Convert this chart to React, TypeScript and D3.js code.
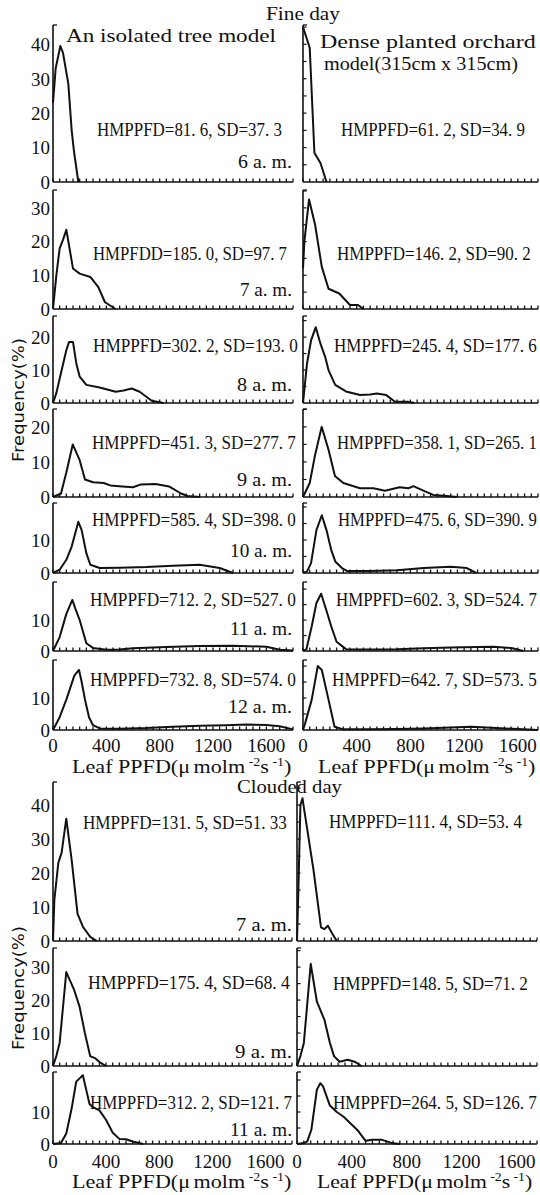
import React, { useLayoutEffect, useRef, useState } from 'react';
import * as d3 from 'd3';

type Pt = [number, number];

// ---------- DATA (PPFD µmol m-2 s-1, frequency %) ----------
const xTickValues = [0, 400, 800, 1200, 1600];

const fine6L: Pt[] = [[0,23],[20,33],[55,39.5],[75,37.5],[115,28.5],[140,15],[157,9],[190,0]];
const fine6R: Pt[] = [[0,45],[50,39],[85,8.5],[100,7.5],[130,5.5],[175,0]];
const fine7L: Pt[] = [[0,0],[25,10],[50,18],[75,20.5],[100,23.5],[150,12],[200,10.5],[280,9.5],[340,6.5],[390,2],[470,0]];
const fine7R: Pt[] = [[0,12],[10,20],[45,32.5],[90,25],[140,12.5],[190,6],[270,4.6],[350,1.2],[410,1.2],[450,0]];
const fine8L: Pt[] = [[0,0],[25,3],[65,10],[100,16],[120,18.5],[150,18.5],[175,12],[200,8],[250,5.5],[350,4.7],[470,3.4],[530,3.8],[590,4.4],[650,3.4],[740,0.7],[830,0]];
const fine8R: Pt[] = [[0,0],[15,6],[30,12],[60,19],[95,23],[130,18],[165,14],[190,10],[240,5.5],[320,3.5],[425,2.4],[500,2.6],[550,2.9],[620,2.4],[685,0.4],[780,0.4],[830,0]];
const fine9L: Pt[] = [[0,0],[60,1],[100,7],[148,15],[200,10.5],[240,5],[300,4.2],[380,4],[430,3.3],[520,3],[600,2.8],[660,3.6],[770,3.7],[870,3],[960,1],[1010,0.3],[1100,0]];
const fine9R: Pt[] = [[0,0],[50,4],[90,12],[139,20],[190,13.5],[238,6],[300,4],[425,2.5],[525,2.5],[610,1.8],[720,2.8],[785,2.5],[822,3.1],[896,1.8],[970,0.6],[1070,0.3],[1145,0]];
const fine10L: Pt[] = [[0,0],[50,1],[100,4],[140,8],[190,15.5],[215,13],[250,6],[280,2.5],[350,1.5],[500,1.6],[700,1.8],[900,2.2],[1100,2.5],[1250,1.5],[1350,0]];
const fine10R: Pt[] = [[0,0],[30,0.5],[60,3],[100,13],[140,17.5],[175,13],[210,7],[240,3.5],[290,1.5],[330,0.6],[500,0.6],[700,0.8],[900,1.5],[1100,1.9],[1220,1.5],[1290,0]];
const fine11L: Pt[] = [[0,0],[50,4.5],[100,12],[145,16.5],[165,14],[200,10],[250,2.5],[300,1],[400,0.4],[500,0.5],[600,0.9],[850,1.3],[1100,1.6],[1350,1.7],[1600,1.4],[1700,0.4],[1800,0.2]];
const fine11R: Pt[] = [[0,0],[25,0.5],[65,8],[100,15.5],[135,18.5],[175,13],[210,8],[250,3],[320,0.6],[500,0.5],[700,0.6],[900,0.9],[1100,1.1],[1300,1.3],[1420,1.4],[1560,0.9],[1640,0]];
const fine12L: Pt[] = [[0,0],[50,4],[100,9.5],[160,17],[195,18.8],[215,15],[240,9.5],[270,4],[300,1.5],[350,0.5],[500,0.4],[700,0.6],[900,1],[1100,1.3],[1300,1.5],[1450,1.7],[1600,1.6],[1700,1.2],[1800,0.2]];
const fine12R: Pt[] = [[0,0],[15,2],[65,9.5],[110,20],[140,18.8],[190,9.5],[235,1],[300,0.2],[500,0.2],[700,0.3],[900,0.5],[1100,0.8],[1250,1],[1400,0.7],[1600,0.3],[1750,0]];

const cloud7L: Pt[] = [[0,0],[10,12],[40,23],[65,26],[100,36],[140,24],[185,8],[225,4.2],[280,1.2],[330,0]];
const cloud7R: Pt[] = [[0,0],[10,15],[25,40],[40,42],[55,38],[120,21],[175,4],[200,3.5],[225,4.5],[260,2],[290,0]];
const cloud9L: Pt[] = [[0,0],[25,3],[50,7],[100,28.5],[160,23],[200,18],[240,10],[280,3],[320,2.3],[350,1.2],[400,0]];
const cloud9R: Pt[] = [[0,0],[25,3],[50,7],[100,31],[145,19.5],[200,14],[240,7],[270,3],[310,1.3],[370,1.9],[420,1.3],[470,0]];
const cloud11L: Pt[] = [[0,0],[60,0.3],[100,3.3],[140,11],[175,19.5],[200,20.5],[225,21.5],[250,17],[275,12.5],[300,11.5],[350,10.5],[400,7.5],[450,3.5],[500,1.6],[550,1.5],[600,0.8],[680,0]];
const cloud11R: Pt[] = [[0,0],[50,0.3],[75,0.8],[105,4.5],[145,17],[170,19],[190,18],[240,12],[290,10],[340,8.5],[440,4.4],[500,1],[550,1.3],[620,1.3],[700,0.2],[750,0]];

const statsFineL = ['HMPPFD=81. 6, SD=37. 3','HMPFDD=185. 0, SD=97. 7','HMPPFD=302. 2, SD=193. 0','HMPPFD=451. 3, SD=277. 7','HMPPFD=585. 4, SD=398. 0','HMPPFD=712. 2, SD=527. 0','HMPPFD=732. 8, SD=574. 0'];
const statsFineR = ['HMPPFD=61. 2, SD=34. 9','HMPPFD=146. 2, SD=90. 2','HMPPFD=245. 4, SD=177. 6','HMPPFD=358. 1, SD=265. 1','HMPPFD=475. 6, SD=390. 9','HMPPFD=602. 3, SD=524. 7','HMPPFD=642. 7, SD=573. 5'];
const timesFine = ['6 a. m.','7 a. m.','8 a. m.','9 a. m.','10 a. m.','11 a. m.','12 a. m.'];
const statsCloudL = ['HMPPFD=131. 5, SD=51. 33','HMPPFD=175. 4, SD=68. 4','HMPPFD=312. 2, SD=121. 7'];
const statsCloudR = ['HMPPFD=111. 4, SD=53. 4','HMPPFD=148. 5, SD=71. 2','HMPPFD=264. 5, SD=126. 7'];
const timesCloud = ['7 a. m.','9 a. m.','11 a. m.'];

const yTicksFine = [[0,10,20,30,40],[0,10,20,30],[0,10,20],[0,10,20],[0,10],[0,10],[0,10]];
const yTicksCloud = [[0,10,20,30,40],[0,10,20,30],[0,10]];
const yMaxFine = [45.6, 35.3, 26.4, 25.1, 21.2, 22.3, 21.9];
const yMaxCloud = [46.8, 35.8, 22.5];

const fineL = [fine6L, fine7L, fine8L, fine9L, fine10L, fine11L, fine12L];
const fineR = [fine6R, fine7R, fine8R, fine9R, fine10R, fine11R, fine12R];
const cloudL = [cloud7L, cloud9L, cloud11L];
const cloudR = [cloud7R, cloud9R, cloud11R];

// ---------- LAYOUT ----------
const W = 540, H = 1195;
const fineRows = [
  { top: 25, base: 182 }, { top: 190, base: 309 }, { top: 316, base: 403 }, { top: 409, base: 497 },
  { top: 503, base: 573 }, { top: 582, base: 651 }, { top: 660, base: 730 },
];
const cloudRows = [{ top: 782, base: 941 }, { top: 948, base: 1066 }, { top: 1072, base: 1144 }];
const fineCols = { L: [53, 293], R: [303, 538] };
const cloudCols = { L: [53, 292], R: [297, 537] };
const xMaxL = 1800, xMaxR = 1750;

const fineStatL = [[97,185,136],[93,194,260],[93,205,352],[92,204,449],[92,204,526],[90,206,606],[90,206,686]];
const fineStatR = [[341,184,136],[337,194,260],[334,203,352],[337,200,449],[338,199,526],[336,201,606],[332,205,686]];
const fineTime = [[54,168],[52,296],[55,391],[55,486],[62,557],[62,635],[64,713]];
const cloudStatL = [[83,204,829],[88,202,989],[90,202,1109]];
const cloudStatR = [[329,193,828],[333,195,990],[333,204,1109]];
const cloudTime = [[56,931],[57,1058],[62,1136]];

const SERIF = '"Liberation Serif", "DejaVu Serif", serif';
const SANS = '"DejaVu Sans", "Liberation Sans", sans-serif';
const INK = '#111';

// Text squeezed horizontally to a target width (keeps real bbox inside the page)
function Fit({ x, y, w, children, anchor = 'start', size = 19, family = SERIF, rotate = 0 }: any) {
  const ref = useRef<SVGTextElement>(null);
  const [k, setK] = useState(1);
  useLayoutEffect(() => {
    if (ref.current) {
      const n = ref.current.getComputedTextLength();
      if (n > 0) setK(w / n);
    }
  }, [w]);
  return (
    <text ref={ref} transform={`translate(${x},${y}) rotate(${rotate}) scale(${k},1)`} x={0} y={0}
      textAnchor={anchor} fontFamily={family} fontSize={size} fill={INK}>{children}</text>
  );
}

type PanelProps = {
  x0: number; x1: number; top: number; base: number; xMax: number; yMax: number;
  data: Pt[]; yTicks: number[] | null; minorY: boolean;
};

function Panel({ x0, x1, top, base, xMax, yMax, data, yTicks, minorY }: PanelProps) {
  const x = d3.scaleLinear().domain([0, xMax]).range([x0, x1]);
  const y = d3.scaleLinear().domain([0, yMax]).range([base, top]);
  const line = d3.line<Pt>().x(d => x(d[0])).y(d => y(d[1]));
  const minorX = d3.range(0, xMax + 1, 50);
  const minorYs = minorY ? d3.range(5, yMax, 5) : [];
  return (
    <g>
      <line x1={x0} x2={x0} y1={top} y2={base} stroke={INK} strokeWidth={1.6} />
      <line x1={x0} x2={x0 + 4} y1={top} y2={top} stroke={INK} strokeWidth={1.3} />
      <line x1={x0} x2={x1} y1={base} y2={base} stroke={INK} strokeWidth={1.7} />
      {minorX.map(v => (
        <line key={'mx' + v} x1={x(v)} x2={x(v)} y1={base} y2={base - 3.5} stroke={INK} strokeWidth={1.3} />
      ))}
      {minorYs.map(v => (
        <line key={'my' + v} x1={x0} x2={x0 + 3.5} y1={y(v)} y2={y(v)} stroke={INK} strokeWidth={1.2} />
      ))}
      {yTicks && yTicks.map(v => (
        <text key={'yt' + v} x={x0 - 3} y={y(v)} dy="0.36em" textAnchor="end" fontFamily={SERIF} fontSize={19} fill={INK}>{v}</text>
      ))}
      <path d={line(data) || ''} fill="none" stroke={INK} strokeWidth={2} strokeLinejoin="round" />
    </g>
  );
}

function XLabels({ x0, x1, xMax, yBase }: { x0: number; x1: number; xMax: number; yBase: number }) {
  const x = d3.scaleLinear().domain([0, xMax]).range([x0, x1]);
  return (
    <g>
      {xTickValues.map(v => (
        <text key={v} x={x(v)} y={yBase} textAnchor="middle" fontFamily={SERIF} fontSize={19} fill={INK}>{v}</text>
      ))}
    </g>
  );
}

function AxisTitle({ x, y, w }: { x: number; y: number; w: number }) {
  return (
    <Fit x={x} y={y} w={w}>
      <tspan>Leaf PPFD(</tspan>
      <tspan>μ</tspan>
      <tspan dx="3">molm</tspan>
      <tspan dy="-7" fontSize={12}> -2</tspan>
      <tspan dy="7">s</tspan>
      <tspan dy="-7" fontSize={12}> -1</tspan>
      <tspan dy="7">)</tspan>
    </Fit>
  );
}

export default function App() {
  return (
    <svg width={W} height={H} viewBox={`0 0 ${W} ${H}`}
      style={{ position: 'absolute', left: 0, top: 0, background: '#fff' }}>
      <rect width={W} height={H} fill="#fff" />
      {/* headings */}
      <Fit x={266} y={20} w={74}>Fine day</Fit>
      <Fit x={66} y={42} w={210}>An isolated tree model</Fit>
      <Fit x={320} y={48} w={216}>Dense planted orchard</Fit>
      <Fit x={324} y={70} w={194}>model(315cm x 315cm)</Fit>
      <Fit x={237} y={793} w={105}>Clouded day</Fit>

      {/* fine day panels */}
      {fineRows.map((r, i) => (
        <g key={'f' + i}>
          <Panel x0={fineCols.L[0]} x1={fineCols.L[1]} top={r.top} base={r.base} xMax={xMaxL} yMax={yMaxFine[i]}
            data={fineL[i]} yTicks={yTicksFine[i]} minorY={false} />
          <Panel x0={fineCols.R[0]} x1={fineCols.R[1]} top={r.top} base={r.base} xMax={xMaxR} yMax={yMaxFine[i]}
            data={fineR[i]} yTicks={null} minorY={true} />
          <Fit x={fineStatL[i][0]} y={fineStatL[i][2]} w={fineStatL[i][1]}>{statsFineL[i]}</Fit>
          <Fit x={fineStatR[i][0]} y={fineStatR[i][2]} w={fineStatR[i][1]}>{statsFineR[i]}</Fit>
          <Fit x={292} y={fineTime[i][1]} w={fineTime[i][0]} anchor="end">{timesFine[i]}</Fit>
        </g>
      ))}
      <XLabels x0={fineCols.L[0]} x1={fineCols.L[1]} xMax={xMaxL} yBase={752} />
      <XLabels x0={fineCols.R[0]} x1={fineCols.R[1]} xMax={xMaxR} yBase={752} />
      <AxisTitle x={72} y={773} w={216} />
      <AxisTitle x={318} y={773} w={214} />

      {/* clouded day panels */}
      {cloudRows.map((r, i) => (
        <g key={'c' + i}>
          <Panel x0={cloudCols.L[0]} x1={cloudCols.L[1]} top={r.top} base={r.base} xMax={xMaxL} yMax={yMaxCloud[i]}
            data={cloudL[i]} yTicks={yTicksCloud[i]} minorY={false} />
          <Panel x0={cloudCols.R[0]} x1={cloudCols.R[1]} top={r.top} base={r.base} xMax={xMaxR} yMax={yMaxCloud[i]}
            data={cloudR[i]} yTicks={null} minorY={true} />
          <Fit x={cloudStatL[i][0]} y={cloudStatL[i][2]} w={cloudStatL[i][1]}>{statsCloudL[i]}</Fit>
          <Fit x={cloudStatR[i][0]} y={cloudStatR[i][2]} w={cloudStatR[i][1]}>{statsCloudR[i]}</Fit>
          <Fit x={292} y={cloudTime[i][1]} w={cloudTime[i][0]} anchor="end">{timesCloud[i]}</Fit>
        </g>
      ))}
      <XLabels x0={cloudCols.L[0]} x1={cloudCols.L[1]} xMax={xMaxL} yBase={1168} />
      <XLabels x0={cloudCols.R[0]} x1={cloudCols.R[1]} xMax={xMaxR} yBase={1168} />
      <AxisTitle x={72} y={1188} w={216} />
      <AxisTitle x={317} y={1188} w={212} />

      {/* y axis titles */}
      <Fit x={24} y={400} w={124} anchor="middle" family={SANS} size={16} rotate={-90}>Frequency(%)</Fit>
      <Fit x={24} y={988} w={124} anchor="middle" family={SANS} size={16} rotate={-90}>Frequency(%)</Fit>
    </svg>
  );
}
